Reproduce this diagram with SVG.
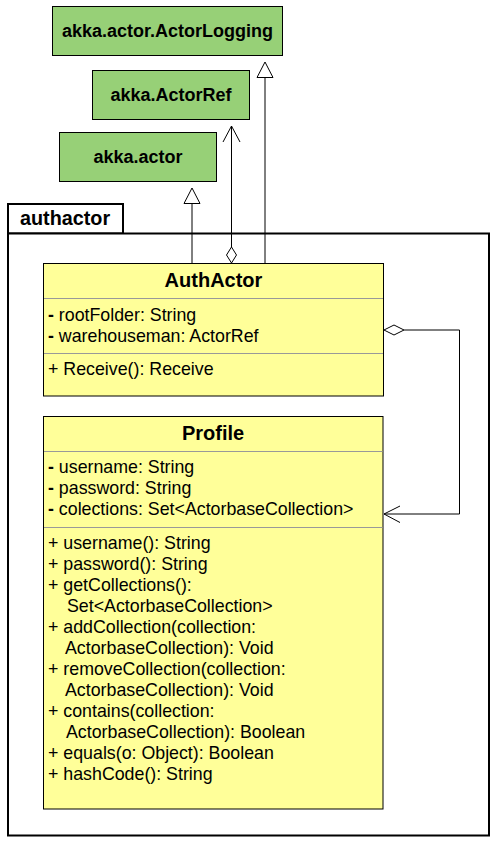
<svg xmlns="http://www.w3.org/2000/svg" width="503" height="842" viewBox="0 0 503 842">
<defs>
<style>
.pkg{fill:#fff;stroke:#000;stroke-width:2}
.ext{fill:#97D077;stroke:#000;stroke-width:1}
.cls{fill:#FFFF99;stroke:#000;stroke-width:1}
.sep{stroke:#999;stroke-width:1}
.t{font-family:"Liberation Sans",Arial,sans-serif;font-size:17.8px;fill:#000}
.b{font-family:"Liberation Sans",Arial,sans-serif;font-weight:bold;fill:#000}
.ln{fill:none;stroke:#000;stroke-width:1}
.tri{fill:#fff;stroke:#000;stroke-width:1}
</style>
</defs>
<g id="pkg-authactor">
<rect class="pkg" x="8" y="204" width="115" height="29.5"/>
<rect class="pkg" x="8" y="233.5" width="481" height="602"/>
<text class="b" x="20" y="225" font-size="19.8">authactor</text>
</g>
<g id="node-ActorLogging">
<rect class="ext" x="52.5" y="6.5" width="230" height="49"/>
<text class="b" x="167.5" y="37" font-size="18" text-anchor="middle">akka.actor.ActorLogging</text>
</g>
<g id="node-ActorRef">
<rect class="ext" x="92.5" y="70.5" width="157" height="49"/>
<text class="b" x="171" y="101" font-size="18" text-anchor="middle">akka.ActorRef</text>
</g>
<g id="node-actor">
<rect class="ext" x="59.5" y="132.5" width="157" height="49"/>
<text class="b" x="138" y="163" font-size="18" text-anchor="middle">akka.actor</text>
</g>
<g id="node-AuthActor">
<rect class="cls" x="43.5" y="263.5" width="340" height="132.5"/>
<text class="b" x="213.5" y="287" font-size="20" text-anchor="middle">AuthActor</text>
<line class="sep" x1="44" y1="298.5" x2="383" y2="298.5"/>
<text class="t" x="48" y="321"><tspan font-weight="bold">-</tspan> rootFolder: String</text>
<text class="t" x="48" y="342"><tspan font-weight="bold">-</tspan> warehouseman: ActorRef</text>
<line class="sep" x1="44" y1="353.5" x2="383" y2="353.5"/>
<text class="t" x="48" y="375">+ Receive(): Receive</text>
</g>
<g id="node-Profile">
<rect class="cls" x="43.5" y="416.5" width="339.5" height="392.5"/>
<text class="b" x="213" y="440" font-size="20" text-anchor="middle">Profile</text>
<line class="sep" x1="44" y1="451.5" x2="382.5" y2="451.5"/>
<text class="t" x="48" y="473"><tspan font-weight="bold">-</tspan> username: String</text>
<text class="t" x="48" y="494"><tspan font-weight="bold">-</tspan> password: String</text>
<text class="t" x="48" y="515"><tspan font-weight="bold">-</tspan> colections: Set&lt;ActorbaseCollection&gt;</text>
<line class="sep" x1="44" y1="527.5" x2="382.5" y2="527.5"/>
<text class="t" x="48" y="549">+ username(): String</text>
<text class="t" x="48" y="570">+ password(): String</text>
<text class="t" x="48" y="591">+ getCollections():</text>
<text class="t" x="67" y="612">Set&lt;ActorbaseCollection&gt;</text>
<text class="t" x="48" y="633">+ addCollection(collection:</text>
<text class="t" x="65" y="654">ActorbaseCollection): Void</text>
<text class="t" x="48" y="675">+ removeCollection(collection:</text>
<text class="t" x="65" y="696">ActorbaseCollection): Void</text>
<text class="t" x="48" y="717">+ contains(collection:</text>
<text class="t" x="66" y="738">ActorbaseCollection): Boolean</text>
<text class="t" x="48" y="759">+ equals(o: Object): Boolean</text>
<text class="t" x="48" y="780">+ hashCode(): String</text>
</g>
<g id="connectors">
<line class="ln" x1="192" y1="263" x2="192" y2="203.5"/>
<polygon class="tri" points="192,188 184,203.5 200,203.5"/>
<line class="ln" x1="231.5" y1="247" x2="231.5" y2="126"/>
<polygon class="tri" points="231.5,263 226.5,255 231.5,247 236.5,255"/>
<polyline class="ln" points="223,142 231.5,126 240,142"/>
<line class="ln" x1="265" y1="263" x2="265" y2="77.5"/>
<polygon class="tri" points="265,62 257,77.5 273,77.5"/>
<polyline class="ln" points="404,330 459.5,330 459.5,514 384,514"/>
<polygon class="tri" points="384,330 394,325 404,330 394,335"/>
<polyline class="ln" points="400,506 384,514 400,522.5"/>
</g>
</svg>
